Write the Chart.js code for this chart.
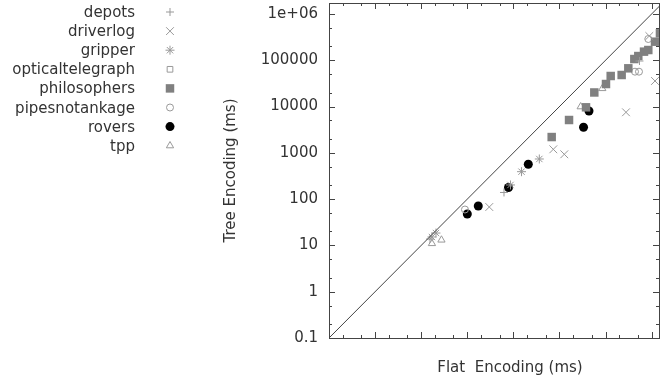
<!DOCTYPE html>
<html><head><meta charset="utf-8">
<script src="https://cdn.jsdelivr.net/npm/chart.js@4.4.1/dist/chart.umd.min.js"></script>
<style>html,body{margin:0;padding:0;background:#fff;overflow:hidden}#wrap{width:660px;height:382px;position:relative}</style>
</head><body><div id="wrap"><canvas id="c" width="660" height="382"></canvas></div>
<script>
// ---- data (flat encoding ms, tree encoding ms) ----
const seriesNames = ['depots','driverlog','gripper','opticaltelegraph','philosophers','pipesnotankage','rovers','tpp'];
const depots = [[15.5,13.7],[625,139],[543000,96100]];
const driverlog = [[300,67.5],[7340,1190],[12700,929],[277000,7500],[1180000,35600],[887000,333000]];
const gripper = [[17.1,15.2],[20.9,18.5],[865,202],[1500,391],[3650,735]];
const opticaltelegraph = [];
const philosophers = [[6770,2190],[16100,5110],[37600,9610],[56900,20100],[102000,30600],[129000,45600],[223000,47900],[311000,66800],[420000,106000],[512000,123000],[681000,153000],[844000,166000],[1180000,251000],[1510000,381000]];
const pipesnotankage = [[89,59.6],[434000,56500],[530000,56500],[844000,287000]];
const rovers = [[100,47.6],[173,71],[783,178],[2105,565],[33200,3555],[43600,8000]];
const tpp = [[17.1,11.0],[27.5,13.1],[28800,9900],[84800,24500]];
const diagonal = [[0.1,0.1],[1e7,1e7]];
const yTickValues = [0.1,1,10,100,1000,10000,100000,1000000];
const yTickLabels = ['0.1','1','10','100','1000','10000','100000','1e+06'];
const xTitle = 'Flat  Encoding (ms)';
const yTitle = 'Tree Encoding (ms)';

const seriesData = [depots,driverlog,gripper,opticaltelegraph,philosophers,pipesnotankage,rovers,tpp];
const styles = [
  {pointStyle:'cross', radius:4, bg:'#999', bc:'#999', bw:1},
  {pointStyle:'crossRot', radius:5.5, bg:'#999', bc:'#999', bw:1},
  {pointStyle:'star', radius:4.5, bg:'#999', bc:'#999', bw:1},
  {pointStyle:'rect', radius:4, bg:'rgba(0,0,0,0)', bc:'#999', bw:1},
  {pointStyle:'rect', radius:6, bg:'#808080', bc:'#808080', bw:0},
  {pointStyle:'circle', radius:3.5, bg:'rgba(0,0,0,0)', bc:'#999', bw:1},
  {pointStyle:'circle', radius:4.5, bg:'#000', bc:'#000', bw:0},
  {pointStyle:'triangle', radius:4.2, bg:'rgba(0,0,0,0)', bc:'#999', bw:1}
];
const toXY = a => a.map(p => ({x:p[0], y:p[1]}));

const datasets = [{
  type:'line', label:'', data: toXY(diagonal), showLine:true, borderColor:'#444', borderWidth:1,
  pointRadius:0, fill:false, isDiag:true
}];
seriesNames.forEach((n,i) => {
  const s = styles[i];
  datasets.push({
    label:n, data: toXY(seriesData[i]), pointStyle:s.pointStyle, pointRadius:s.radius,
    backgroundColor:s.bg, borderColor:s.bc, borderWidth:s.bw, showLine:false
  });
});

const FONT = '15px "DejaVu Sans"';
const TXT = '#333';

const framePlugin = {
  id:'frame',
  beforeDatasetsDraw(chart){
    const {ctx, chartArea:a, scales:{x, y}} = chart;
    ctx.save();
    ctx.strokeStyle = '#444';
    ctx.lineWidth = 1;
    ctx.strokeRect(a.left+0.5, a.top+0.5, a.right-a.left, a.bottom-a.top);
    const ticks = [];
    for (let k=-1;k<=7;k++){ [1,2,5].forEach(m => ticks.push({v:m*Math.pow(10,k), major:m===1})); }
    ctx.beginPath();
    ticks.forEach(t => {
      const len = t.major ? 6 : 3;
      if (t.v >= x.min && t.v <= x.max){
        const px = Math.round(x.getPixelForValue(t.v)) + 0.5;
        ctx.moveTo(px, a.bottom); ctx.lineTo(px, a.bottom - len);
        ctx.moveTo(px, a.top); ctx.lineTo(px, a.top + len);
      }
      if (t.v >= y.min && t.v <= y.max){
        const py = Math.round(y.getPixelForValue(t.v)) + 0.5;
        ctx.moveTo(a.left, py); ctx.lineTo(a.left + len, py);
        ctx.moveTo(a.right, py); ctx.lineTo(a.right - len, py);
      }
    });
    ctx.stroke();
    ctx.restore();
  },
  afterDraw(chart){
    const {ctx, chartArea:a} = chart;
    ctx.save();
    ctx.font = FONT;
    ctx.fillStyle = TXT;
    ctx.textAlign = 'center';
    ctx.textBaseline = 'alphabetic';
    ctx.fillText(xTitle, 510, 372);
    ctx.save();
    ctx.translate(235, (a.top + a.bottom)/2);
    ctx.rotate(-Math.PI/2);
    ctx.fillText(yTitle, 0, 0);
    ctx.restore();
    const dp = (Chart.helpers && Chart.helpers.drawPoint) ? Chart.helpers.drawPoint : null;
    let row = 0;
    chart.data.datasets.forEach(ds => {
      if (ds.isDiag) return;
      const cy = 12 + row * 19.1;
      ctx.fillStyle = TXT;
      ctx.textAlign = 'right';
      ctx.fillText(ds.label, 135, cy + 5);
      ctx.fillStyle = ds.backgroundColor;
      ctx.strokeStyle = ds.borderColor;
      ctx.lineWidth = ds.borderWidth;
      if (dp) dp(ctx, {pointStyle: ds.pointStyle, radius: ds.pointRadius, rotation: 0, borderWidth: ds.borderWidth}, 170, cy);
      row++;
    });
    ctx.restore();
  }
};

function zeroPad(s){ s.paddingTop = 0; s.paddingBottom = 0; s.paddingLeft = 0; s.paddingRight = 0; }

new Chart(document.getElementById('c'), {
  type:'scatter',
  data:{datasets},
  options:{
    responsive:false, animation:false, events:[],
    layout:{autoPadding:false, padding:{top:3, right:1, left:0, bottom:0}},
    plugins:{legend:{display:false}, tooltip:{enabled:false}},
    scales:{
      x:{
        type:'logarithmic', min:0.1, max:1.44e6, bounds:'data',
        grid:{display:false, drawTicks:false}, border:{display:false},
        ticks:{display:false},
        afterFit(s){ s.height = 44; zeroPad(s); }
      },
      y:{
        type:'logarithmic', min:0.1, max:1.72e6, bounds:'data',
        grid:{display:false, drawTicks:false}, border:{display:false},
        afterBuildTicks(s){ s.ticks = yTickValues.map(v => ({value:v})); },
        ticks:{autoSkip:false, padding:11, color:TXT, font:{family:'DejaVu Sans', size:15},
          callback:(v, i) => yTickLabels[i]},
        afterFit(s){ s.width = 329; zeroPad(s); }
      }
    }
  },
  plugins:[framePlugin]
});
</script>
</body></html>
